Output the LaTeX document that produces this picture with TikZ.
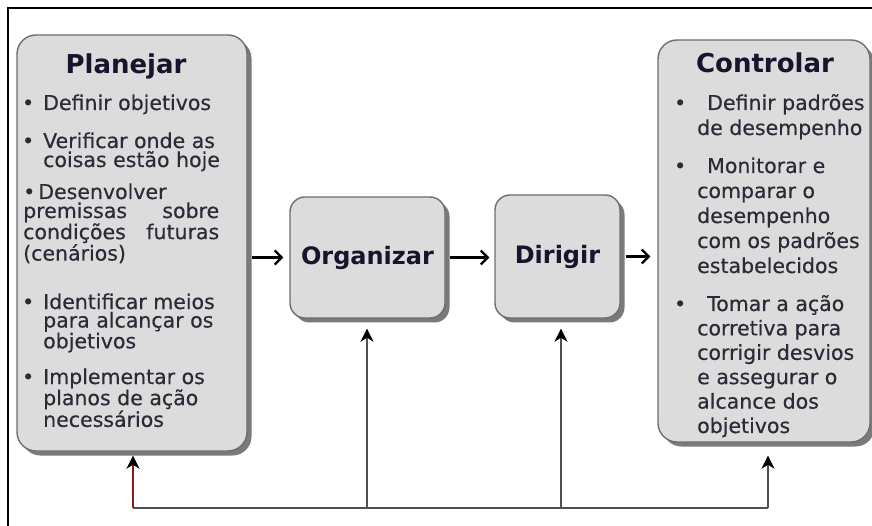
\documentclass[tikz,border=0pt]{standalone}
\usepackage{fontspec}
\setmainfont{DejaVu Sans}
\newfontfamily\bodyface[FakeBold=0.35]{DejaVu Sans}
\usetikzlibrary{arrows.meta,shadows}
\definecolor{boxfill}{HTML}{DCDCDC}
\definecolor{boxline}{HTML}{6E6E6E}
\definecolor{shadowc}{HTML}{7A7A7A}
\definecolor{titlec}{HTML}{15152E}
\definecolor{bodyc}{HTML}{2B2B38}
\definecolor{fbcol}{HTML}{505050}
\definecolor{redcol}{HTML}{8B1A1A}
\newcommand{\pbul}[1]{\leavevmode\llap{•\hspace{#1}}}
\tikzset{
  card/.style={draw=boxline, line width=1.4pt, fill=boxfill, rounded corners=#1,
    drop shadow={shadow xshift=4.5pt, shadow yshift=-4.5pt, fill=shadowc, opacity=1}},
  card/.default=19pt,
  titletext/.style={anchor=base, inner sep=0pt, text=titlec, font=\fontsize{26}{26}\selectfont\bfseries},
  midtext/.style={text=titlec, font=\fontsize{24}{24}\selectfont\bfseries},
  bodytext/.style={anchor=base west, inner sep=0pt, text=bodyc, font=\bodyface\fontsize{20.5}{#1}\selectfont},
  bodytext/.default=19.5,
  harrow/.style={line width=2.2pt, black, -{Straight Barb[length=7pt,width=14pt,line width=2.2pt]}},
  fbpath/.style={line width=2.2pt, draw=fbcol},
  varrow/.style={line width=2.2pt, draw=fbcol, -{Stealth[length=13pt,width=13pt,inset=4pt,black]}},
  redarrow/.style={line width=2.2pt, draw=redcol, -{Stealth[length=13pt,width=13pt,inset=4pt,black]}}
}
\begin{document}
\begin{tikzpicture}[x=1pt,y=-1pt]
\useasboundingbox (0,0) rectangle (872,526);
\clip (0,0) rectangle (872,526);
\fill[white] (0,0) rectangle (872,526);
% outer frame (only top and left sides are visible)
\draw[line width=2.2pt, black] (8,540) -- (8,8) -- (890,8);

% boxes
\node[card, minimum width=230pt, minimum height=416pt] (planejar) at (132,243) {};
\node[card, minimum width=212pt, minimum height=402pt] (controlar) at (764,241) {};
\node[card=15pt, midtext, minimum width=155pt, minimum height=121pt] (organizar) at (367.5,257.5) {Organizar};
\node[card=15pt, midtext, minimum width=125pt, minimum height=123pt] (dirigir) at (557.5,256.5) {Dirigir};

% titles
\node[titletext] (tplan) at (126,74) {Planejar};
\node[titletext] (tcont) at (765,73) {Controlar};

% Planejar body
\node[bodytext=19] (p1) at (43,110) {\parbox[t]{200pt}{\pbul{9pt}Definir objetivos}};
\node[bodytext=19] (p2) at (43,148) {\parbox[t]{200pt}{\pbul{9pt}Verificar onde as\\coisas estão hoje}};
\node[bodytext=19] (p3) at (23,199) {\parbox[t]{210pt}{•\hspace{3pt}Desenvolver\\\makebox[196pt][s]{premissas sobre}\\\makebox[196pt][s]{condições futuras}\\(cenários)}};
\node[bodytext=18.5] (p4) at (43,309) {\parbox[t]{200pt}{\pbul{9pt}Identificar meios\\para alcançar os\\objetivos}};
\node[bodytext=20] (p5) at (43,384) {\parbox[t]{200pt}{\pbul{9pt}Implementar os\\planos de ação\\necessários}};

% Controlar body
\node[bodytext=25] (c1) at (697,110) {\parbox[t]{180pt}{\pbul{11pt}\hspace{10pt}Definir padrões\\de desempenho}};
\node[bodytext=25] (c2) at (697,173) {\parbox[t]{180pt}{\pbul{11pt}\hspace{10pt}Monitorar e\\comparar o\\desempenho\\com os padrões\\estabelecidos}};
\node[bodytext=24.4] (c3) at (697,311) {\parbox[t]{180pt}{\pbul{11pt}\hspace{10pt}Tomar a ação\\corretiva para\\corrigir desvios\\e assegurar o\\alcance dos\\objetivos}};

% forward arrows
\draw[harrow, shorten <=4pt, shorten >=6pt] (planejar.east |- organizar.west) -- (organizar.west);
\draw[harrow, shorten <=4pt, shorten >=5pt] (organizar.east) -- (organizar.east -| dirigir.west);
\draw[harrow, shorten <=5pt, shorten >=7pt] (dirigir.east) -- (dirigir.east -| controlar.west);

% feedback loop
\coordinate (fbP) at (133,508);
\coordinate (fbO) at (367,508);
\coordinate (fbD) at (561,508);
\coordinate (fbC) at (768,508);
\draw[fbpath] (fbP) -- (fbC);
\draw[redarrow] (fbP) -- ([yshift=-4pt]planejar.south -| fbP);
\draw[varrow] (fbO) -- ([yshift=-10pt]organizar.south -| fbO);
\draw[varrow] (fbD) -- ([yshift=-10pt]dirigir.south -| fbD);
\draw[varrow] (fbC) -- ([yshift=-13pt]controlar.south -| fbC);
\end{tikzpicture}
\end{document}
